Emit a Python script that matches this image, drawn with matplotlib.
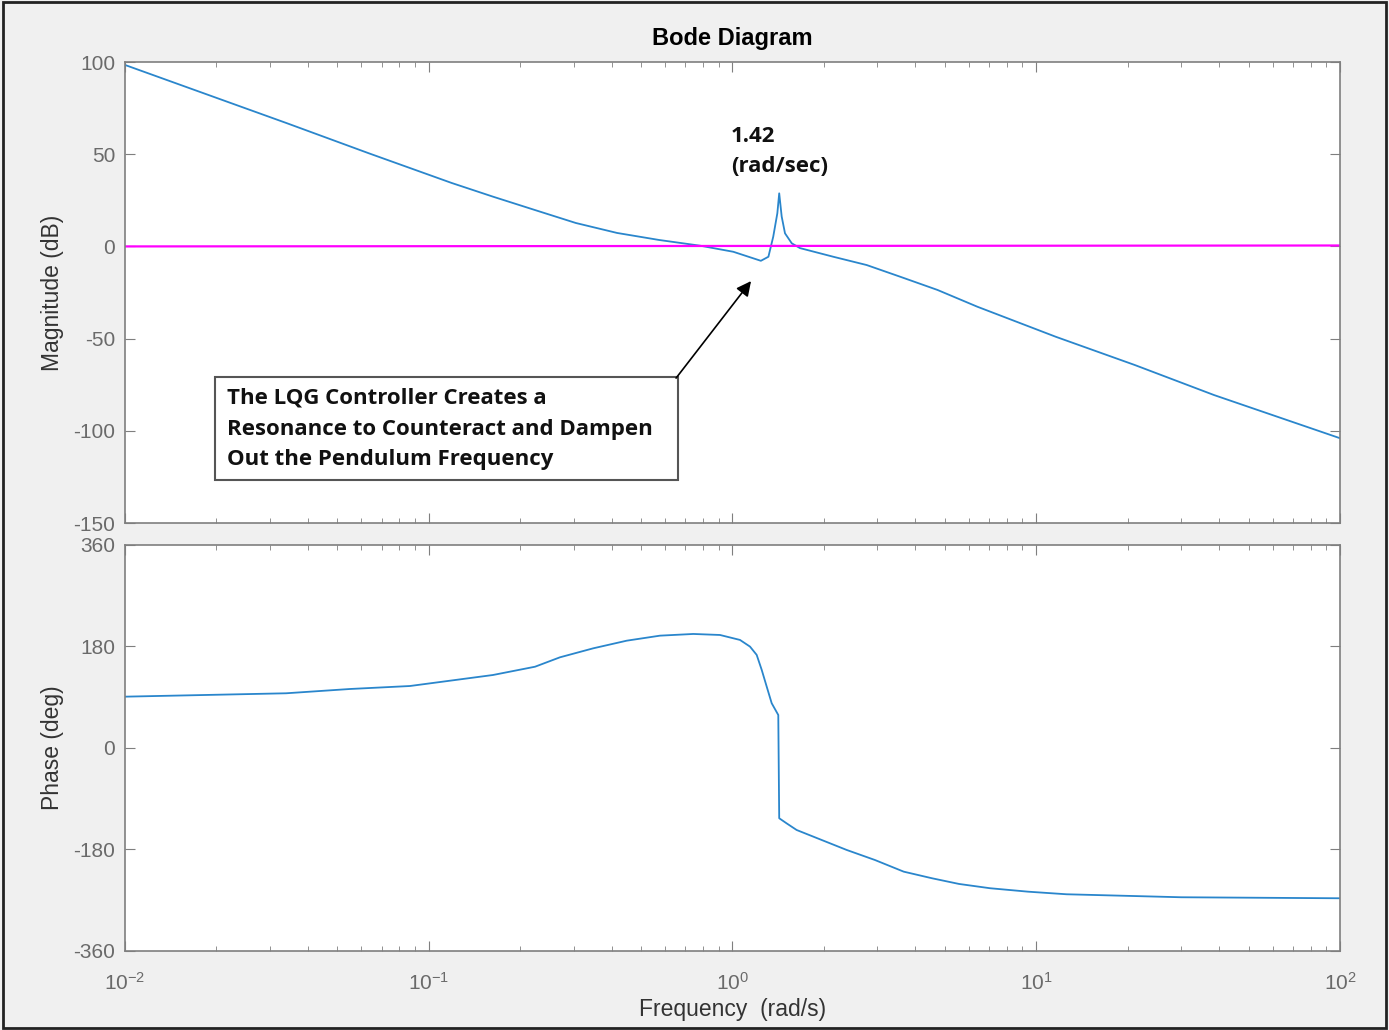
import matplotlib
matplotlib.use("Agg")
import matplotlib.pyplot as plt
from matplotlib.patches import Rectangle

# magnitude (rad/s, dB)
mag_freq = [0.01, 0.034, 0.0635, 0.119, 0.1626, 0.224, 0.305, 0.417, 0.573, 0.782,
            1.006, 1.24, 1.313, 1.362, 1.405, 1.425, 1.452, 1.489, 1.567, 1.667,
            2.147, 2.766, 3.56, 4.73, 6.4, 11.6, 21.1, 38.5, 100]
mag_db = [98.4, 66.9, 50.5, 34.4, 27.0, 19.7, 12.7, 7.3, 3.5, 0.4,
          -2.9, -7.8, -5.6, 5.3, 18.0, 28.8, 16.2, 7.1, 1.7, -0.9,
          -5.6, -10.1, -16.4, -23.6, -32.7, -49.0, -64.3, -80.6, -104.0]

# phase (deg)
ph_freq = [0.01, 0.0339, 0.055, 0.0867, 0.1626, 0.2238, 0.2704, 0.3483, 0.4487,
           0.5773, 0.743, 0.9096, 1.0585, 1.1418, 1.2012, 1.248, 1.296, 1.346,
           1.415, 1.425, 1.506, 1.626, 2.376, 2.943, 3.662, 4.536, 5.57, 7.046,
           9.4, 12.58, 29.99, 100]
ph_deg = [91.0, 97.0, 104.6, 109.9, 129.4, 144.1, 160.8, 176.8, 190.3,
          199.2, 202.2, 200.4, 191.6, 179.8, 165.1, 138.5, 108.9, 79.4,
          58.5, -124.6, -133.5, -145.4, -180.8, -198.6, -219.3, -231.0, -241.1, -248.7,
          -254.8, -259.4, -264.7, -266.5]

# 0 dB reference line
ref_freq = [0.01, 100]
ref_db = [0.0, 0.5]

mag_ticks = [100, 50, 0, -50, -100, -150]
ph_ticks = [360, 180, 0, -180, -360]

plt.rcParams['font.family'] = ['Liberation Sans', 'DejaVu Sans']
plt.rcParams['axes.unicode_minus'] = False
plt.rcParams['mathtext.default'] = 'regular'

blue = '#2a86cc'
grey = '#7f7f7f'
txt = '#6a6a6a'

fig = plt.figure(figsize=(13.89, 10.30), dpi=100, facecolor='#f0f0f0')
ax1 = fig.add_axes([0.0900, 0.4922, 0.8747, 0.4476])
ax2 = fig.add_axes([0.0900, 0.0767, 0.8747, 0.3942], sharex=ax1)

ax1.plot(mag_freq, mag_db, color=blue, lw=1.3)
ax1.plot(ref_freq, ref_db, color='#ff00ff', lw=1.6)
ax2.plot(ph_freq, ph_deg, color=blue, lw=1.3)

for ax in (ax1, ax2):
    ax.set_xscale('log')
    ax.set_xlim(0.01, 100)
    ax.tick_params(which='both', direction='in', top=True, right=True,
                   color=grey, labelcolor=txt, labelsize=15, pad=7)
    ax.tick_params(which='major', length=7)
    ax.tick_params(which='minor', length=3.5)
    for s in ax.spines.values():
        s.set_color(grey)
        s.set_linewidth(1.2)

ax1.set_ylim(-150, 100)
ax1.set_yticks(mag_ticks)
ax1.tick_params(labelbottom=False)
ax2.set_ylim(-360, 360)
ax2.set_yticks(ph_ticks)
ax2.tick_params(axis='x', pad=15)

ax1.set_title('Bode Diagram', fontsize=17, fontweight='bold', pad=12)
ax1.set_ylabel('Magnitude (dB)', fontsize=16.5, color='#333333')
ax2.set_ylabel('Phase (deg)', fontsize=16.5, color='#333333')
ax1.yaxis.set_label_coords(-0.05, 0.5)
ax2.yaxis.set_label_coords(-0.05, 0.5)
ax2.set_xlabel('Frequency  (rad/s)', fontsize=16.5, color='#333333', labelpad=3)

# annotations
note_font = ['Open Sans', 'DejaVu Sans']
ax1.text(0.4988, 0.806, '1.42\n(rad/sec)', transform=ax1.transAxes,
         fontsize=16, fontweight='bold', family=note_font, va='center',
         linespacing=1.6, color='#111111')
ax1.add_patch(Rectangle((0.0741, 0.0933), 0.381, 0.2234, transform=ax1.transAxes,
                        fill=False, edgecolor='#555555', lw=1.5))
ax1.text(0.084, 0.2039, 'The LQG Controller Creates a\nResonance to Counteract and Dampen\n'
         'Out the Pendulum Frequency', transform=ax1.transAxes,
         fontsize=16, fontweight='bold', family=note_font, va='center',
         linespacing=1.6, color='#111111')
ax1.annotate('', xy=(1.151, -18.8), xytext=(0.652, -71.4),
             arrowprops=dict(arrowstyle='-|>', color='black', lw=1.2,
                             mutation_scale=22, shrinkA=0, shrinkB=0))

fig.add_artist(Rectangle((0.002, 0.002), 0.996, 0.996, transform=fig.transFigure,
                         fill=False, edgecolor='#222222', lw=2))

fig.savefig('out.png', dpi=100, facecolor=fig.get_facecolor())
